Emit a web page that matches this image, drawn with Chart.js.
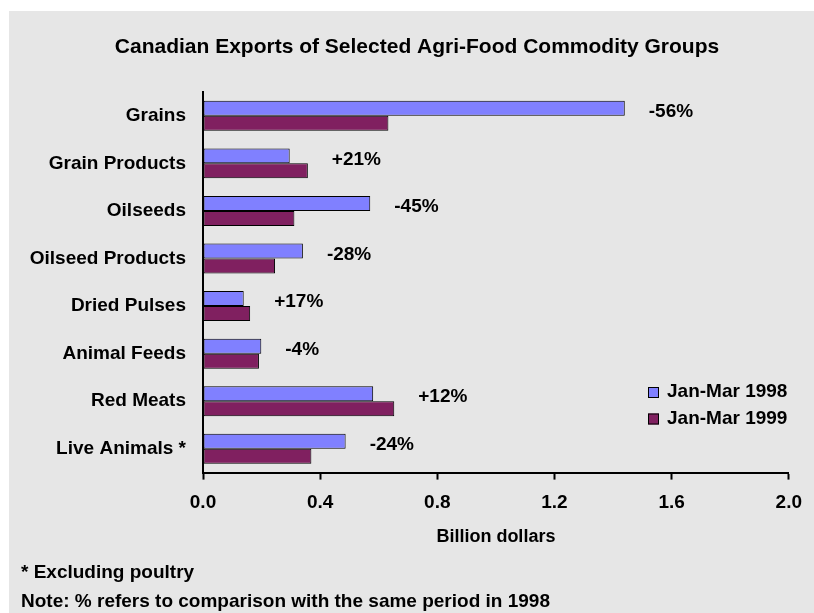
<!DOCTYPE html>
<html>
<head>
<meta charset="utf-8">
<script src="https://cdn.jsdelivr.net/npm/chart.js@4.4.1/dist/chart.umd.min.js"></script>
<style>
  html, body { margin: 0; padding: 0; background: #ffffff; }
  #wrap { width: 814px; height: 613px; }
</style>
</head>
<body>
<div id="wrap"><canvas id="myChart" width="814" height="613"></canvas></div>
<script>
"use strict";
// Data
const categories = ["Grains", "Grain Products", "Oilseeds", "Oilseed Products",
    "Dried Pulses", "Animal Feeds", "Red Meats", "Live Animals *"];
const exports1998 = [1.44, 0.296, 0.571, 0.341, 0.139, 0.199, 0.581, 0.487];
const exports1999 = [0.633, 0.358, 0.312, 0.246, 0.161, 0.191, 0.653, 0.370];
const changeLabels = ["-56%", "+21%", "-45%", "-28%", "+17%", "-4%", "+12%", "-24%"];
const xTicks = [0, 0.4, 0.8, 1.2, 1.6, 2.0];
const seriesNames = ["Jan-Mar 1998", "Jan-Mar 1999"];
const chartTitle = "Canadian Exports of Selected Agri-Food Commodity Groups";
const footnotes = ["* Excluding poultry", "Note: % refers to comparison with the same period in 1998"];

const FONT = "'Liberation Sans', Arial, sans-serif";

// gray panel behind everything
const panel = {
    id: "panel",
    beforeDraw(chart) {
        const ctx = chart.ctx;
        ctx.save();
        ctx.fillStyle = "#e6e6e6";
        ctx.fillRect(9, 11, chart.width - 9, chart.height - 11);
        ctx.restore();
    },
};

// title, % change labels, legend and footnotes
const extras = {
    id: "extras",
    afterDatasetsDraw(chart) {
        const ctx = chart.ctx;
        const m0 = chart.getDatasetMeta(0).data;
        const m1 = chart.getDatasetMeta(1).data;
        ctx.save();
        ctx.fillStyle = "#000";
        ctx.textBaseline = "middle";

        ctx.font = "bold 21px " + FONT;
        ctx.textAlign = "center";
        ctx.fillText(chartTitle, 417, 47);

        ctx.font = "bold 19px " + FONT;
        ctx.textAlign = "left";
        changeLabels.forEach((t, i) => {
            const x = Math.max(m0[i].x, m1[i].x) + 24;
            const y = (m0[i].y + m1[i].y) / 2 - 4;
            ctx.fillText(t, x, y);
        });

        const colors = chart.data.datasets.map(d => d.backgroundColor);
        seriesNames.forEach((name, i) => {
            const y = 392 + i * 26.5;
            const bx = 648;
            ctx.fillStyle = colors[i];
            ctx.fillRect(bx, y - 5, 11, 11);
            ctx.strokeStyle = "#000";
            ctx.lineWidth = 1;
            ctx.strokeRect(bx + 0.5, y - 4.5, 10, 10);
            ctx.fillStyle = "#000";
            ctx.fillText(name, bx + 19, y);
        });

        footnotes.forEach((t, i) => ctx.fillText(t, 21, 573 + i * 29));
        ctx.restore();
    },
};

const data = {
    labels: categories,
    datasets: [
        { label: seriesNames[0], data: exports1998, backgroundColor: "#8080ff",
          borderColor: "#000000", borderWidth: 1, borderSkipped: false },
        { label: seriesNames[1], data: exports1999, backgroundColor: "#802060",
          borderColor: "#000000", borderWidth: 1, borderSkipped: false },
    ],
};

const config = {
    type: "bar",
    data: data,
    plugins: [panel, extras],
    options: {
        indexAxis: "y",
        responsive: false,
        animation: false,
        categoryPercentage: 0.63,
        barPercentage: 1.0,
        layout: { padding: { top: 92, right: 25, bottom: 65, left: 0 } },
        scales: {
            x: {
                min: 0, max: 2,
                afterBuildTicks(scale) { scale.ticks = xTicks.map(v => ({ value: v })); },
                grid: { drawOnChartArea: false, tickLength: 7, color: "#000", tickWidth: 2 },
                border: { color: "#000", width: 2 },
                ticks: { color: "#000", padding: 12,
                    font: { family: FONT, size: 19, weight: "bold" },
                    callback: v => Number(v).toFixed(1) },
                title: { display: true, text: "Billion dollars", color: "#000",
                    padding: { top: 0, bottom: 0 },
                    font: { family: FONT, size: 18, weight: "bold" } },
            },
            y: {
                afterFit(scale) { scale.width = 203; },
                grid: { display: false },
                border: { color: "#000", width: 2 },
                ticks: { color: "#000", padding: 9,
                    font: { family: FONT, size: 19, weight: "bold" } },
            },
        },
        plugins: {
            legend: { display: false },
            tooltip: { enabled: false },
            title: { display: false },
        },
    },
};

const myChart = new Chart(document.getElementById("myChart"), config);
</script>
</body>
</html>
